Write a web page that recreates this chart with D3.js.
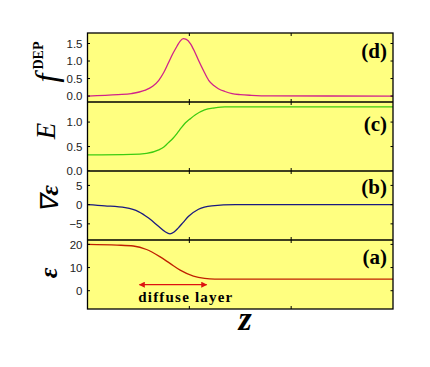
<!DOCTYPE html>
<html>
<head>
<meta charset="utf-8">
<script src="https://cdn.jsdelivr.net/npm/d3@7"></script>
<style>
  body { margin: 0; background: #fff; }
  svg { display: block; }
  .tick-label { font-family: "Liberation Sans", Arial, sans-serif; font-size: 11.5px; fill: #222; }
  .panel-tag { font-family: "Liberation Serif", "Times New Roman", serif; font-weight: bold; font-size: 21px; }
  .axis-name { font-family: "Liberation Serif", "Times New Roman", serif; font-style: italic; }
</style>
</head>
<body>
<div id="chart"></div>
<script>
'use strict';

// shared x positions (z, arbitrary units) and x tick marks
const zDomain = [0, 30];
const zTicks = [10, 20];

// (d) dielectrophoretic force
const fdepZ = [0, 3, 4.3, 5.6, 6.4, 7.0, 7.5, 7.9, 8.4, 8.8, 9.1, 9.4, 9.7, 10.1, 10.5, 10.9, 11.4, 11.9, 12.4, 12.85, 13.5, 14.2, 15, 16.1, 18, 30];
const fdepV = [0, 0.04, 0.07, 0.16, 0.28, 0.45, 0.68, 0.92, 1.22, 1.43, 1.57, 1.64, 1.62, 1.50, 1.28, 1.02, 0.72, 0.45, 0.30, 0.21, 0.13, 0.07, 0.04, 0.02, 0.005, 0];

// (c) field E
const fieldZ = [0, 4.3, 5.8, 7.0, 7.5, 7.9, 8.4, 8.8, 9.2, 9.6, 10.1, 10.6, 11.5, 12.5, 13.5, 30];
const fieldV = [0.33, 0.34, 0.36, 0.43, 0.49, 0.57, 0.67, 0.77, 0.88, 0.98, 1.07, 1.15, 1.25, 1.29, 1.31, 1.31];

// (b) gradient of epsilon
const gradZ = [0, 1.7, 3.7, 5.0, 6.0, 7.0, 7.6, 8.1, 8.5, 8.9, 9.4, 9.9, 10.9, 12.2, 14.5, 30];
const gradV = [0, -0.3, -0.8, -1.8, -3.5, -5.7, -7.0, -7.6, -7.1, -6.1, -4.6, -3.1, -1.2, -0.3, 0, 0];

// (a) permittivity epsilon
const epsZ = [0, 2.9, 4.5, 5.8, 7.1, 8.1, 9.1, 10.4, 11.5, 12.5, 30];
const epsV = [20, 19.7, 19.3, 17.8, 14.7, 11.8, 8.9, 6.3, 5.3, 5.0, 5.0];

// diffuse layer annotation (z range, level in panel a)
const layerZ = [5.1, 11.7];
const layerLevel = 2.6;
const layerText = "diffuse layer";

const panels = [
  {tag: "(d)", z: fdepZ, v: fdepV, domain: [-0.17, 1.8], ticks: [0, 0.5, 1.0, 1.5], fmt: ".1f", color: "#d0238a", tagY: 58},
  {tag: "(c)", z: fieldZ, v: fieldV, domain: [0, 1.41], ticks: [0, 0.5, 1.0], fmt: ".1f", color: "#3ccc10", tagY: 131},
  {tag: "(b)", z: gradZ, v: gradV, domain: [-9.2, 8.75], ticks: [-5, 0, 5], fmt: "d", color: "#1a1a80", tagY: 194},
  {tag: "(a)", z: epsZ, v: epsV, domain: [-7.9, 21.9], ticks: [0, 10, 20], fmt: "d", color: "#c02000", tagY: 264}
];

const width = 430, height = 367;
const plotL = 87.5, plotR = 393, plotT = 33, panelH = 69;

const svg = d3.select("#chart").append("svg")
  .attr("width", width)
  .attr("height", height);

const x = d3.scaleLinear().domain(zDomain).range([plotL, plotR]);

svg.append("defs").selectAll("marker")
  .data(["arrow-start", "arrow-end"])
  .enter().append("marker")
  .attr("id", d => d)
  .attr("viewBox", "0 0 10 10")
  .attr("refX", 9)
  .attr("refY", 5)
  .attr("markerWidth", 7)
  .attr("markerHeight", 6)
  .attr("markerUnits", "userSpaceOnUse")
  .attr("orient", "auto-start-reverse")
  .append("path")
  .attr("d", "M0,0 L10,5 L0,10 z")
  .attr("fill", "#dd1111");

panels.forEach(function(p, i) {
  const y0 = plotT + i * panelH;
  const y = d3.scaleLinear().domain(p.domain).range([y0 + panelH, y0]);
  p.y = y;

  const g = svg.append("g");

  g.append("rect")
    .attr("x", plotL).attr("y", y0)
    .attr("width", plotR - plotL).attr("height", panelH)
    .attr("fill", "#ffff80");

  const line = d3.line()
    .x(d => x(d[0]))
    .y(d => y(d[1]))
    .curve(d3.curveMonotoneX);

  g.append("path")
    .datum(d3.zip(p.z, p.v))
    .attr("fill", "none")
    .attr("stroke", p.color)
    .attr("stroke-width", 1.3)
    .attr("d", line);

  // inward ticks top / bottom
  zTicks.forEach(function(t) {
    g.append("line").attr("x1", x(t)).attr("x2", x(t))
      .attr("y1", y0).attr("y2", y0 + 3).attr("stroke", "#000");
    g.append("line").attr("x1", x(t)).attr("x2", x(t))
      .attr("y1", y0 + panelH).attr("y2", y0 + panelH - 3).attr("stroke", "#000");
  });

  // inward ticks left / right + labels
  p.ticks.forEach(function(t) {
    g.append("line").attr("x1", plotL).attr("x2", plotL + 2.5)
      .attr("y1", y(t)).attr("y2", y(t)).attr("stroke", "#000");
    g.append("line").attr("x1", plotR).attr("x2", plotR - 2.5)
      .attr("y1", y(t)).attr("y2", y(t)).attr("stroke", "#000");
    g.append("text")
      .attr("class", "tick-label")
      .attr("x", plotL - 5)
      .attr("y", y(t))
      .attr("dy", "0.36em")
      .attr("text-anchor", "end")
      .text(d3.format(p.fmt)(t));
  });

  g.append("text")
    .attr("class", "panel-tag")
    .attr("x", 387)
    .attr("y", p.tagY)
    .attr("text-anchor", "end")
    .text(p.tag);
});

// frame lines on top
svg.append("rect")
  .attr("x", plotL).attr("y", plotT)
  .attr("width", plotR - plotL).attr("height", panelH * panels.length)
  .attr("fill", "none").attr("stroke", "#000").attr("stroke-width", 1.3);

panels.slice(1).forEach(function(p, i) {
  const yy = plotT + (i + 1) * panelH;
  svg.append("line")
    .attr("x1", plotL).attr("x2", plotR)
    .attr("y1", yy).attr("y2", yy)
    .attr("stroke", "#000").attr("stroke-width", 1.3);
});

// diffuse layer arrow + text
const ya = panels[3].y;
svg.append("line")
  .attr("x1", x(layerZ[0])).attr("x2", x(layerZ[1]))
  .attr("y1", ya(layerLevel)).attr("y2", ya(layerLevel))
  .attr("stroke", "#dd1111").attr("stroke-width", 1.3)
  .attr("marker-start", "url(#arrow-start)")
  .attr("marker-end", "url(#arrow-end)");

svg.append("text")
  .attr("x", x(9.6))
  .attr("y", ya(-4.9))
  .attr("text-anchor", "middle")
  .attr("font-family", "'Liberation Serif', 'Times New Roman', serif")
  .attr("font-weight", "bold")
  .attr("font-size", 15)
  .attr("textLength", 94)
  .text(layerText);

// axis names (rotated)
function rotLabel(cx, cy) {
  return svg.append("text")
    .attr("class", "axis-name")
    .attr("transform", `translate(${cx},${cy}) rotate(-90)`)
    .attr("text-anchor", "middle");
}

const fl = rotLabel(57, 62);
fl.append("tspan").attr("font-size", 32).text("f");
fl.append("tspan").attr("font-size", 14).attr("font-style", "normal").attr("font-weight", "bold")
  .attr("dx", 4).attr("dy", -14).text("DEP");

rotLabel(55, 131).attr("font-size", 27).text("E");

const gl = rotLabel(58, 199).attr("font-style", "normal");
gl.append("tspan").attr("font-size", 25).text("\u2207");
gl.append("tspan").attr("font-size", 26).attr("font-weight", "bold").text("\u03b5");

rotLabel(57, 273).attr("font-style", "normal").attr("font-weight", "bold").attr("font-size", 26).text("\u03b5");

svg.append("text")
  .attr("class", "axis-name")
  .attr("x", 245).attr("y", 330)
  .attr("text-anchor", "middle")
  .attr("font-weight", "bold")
  .attr("font-size", 34)
  .text("z");
</script>
</body>
</html>
